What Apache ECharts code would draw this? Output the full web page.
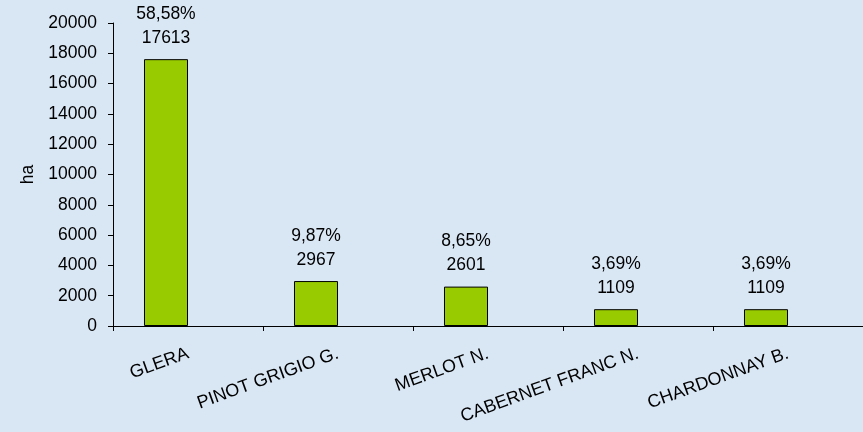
<!DOCTYPE html>
<html>
<head>
<meta charset="utf-8">
<script src="https://cdn.jsdelivr.net/npm/echarts@6/dist/echarts.min.js"></script>
<style>
  html, body { margin: 0; padding: 0; background: #d9e7f5; }
  #chart { width: 863px; height: 432px; }
</style>
</head>
<body>
<div id="chart"></div>
<script>
// Vitigni — superficie (ha) e quota percentuale
const categories = ['GLERA', 'PINOT GRIGIO G.', 'MERLOT N.', 'CABERNET FRANC N.', 'CHARDONNAY B.'];
const ettari     = [17613, 2967, 2601, 1109, 1109];
const percentuali = ['58,58%', '9,87%', '8,65%', '3,69%', '3,69%'];
const yTicks = { min: 0, max: 20000, interval: 2000 };

const FONT = 'Liberation Sans, Arial, sans-serif';

const chart = echarts.init(document.getElementById('chart'), null, { renderer: 'canvas' });

chart.setOption({
  backgroundColor: '#d9e7f5',
  animation: false,
  grid: { left: 113, top: 23, right: -4, bottom: 106, containLabel: false },
  xAxis: {
    type: 'category',
    data: categories,
    boundaryGap: true,
    axisLine: { lineStyle: { color: '#000', width: 1 } },
    axisTick: { show: true, length: 5, lineStyle: { color: '#000' } },
    axisLabel: {
      color: '#000', fontSize: 18, fontFamily: FONT,
      rotate: 20, margin: 27, interval: 0,
    },
    splitLine: { show: false },
  },
  yAxis: {
    type: 'value',
    min: yTicks.min, max: yTicks.max, interval: yTicks.interval,
    name: 'ha',
    nameLocation: 'middle',
    nameGap: 76,
    nameRotate: 90,
    nameTextStyle: { color: '#000', fontSize: 17.5, fontFamily: FONT },
    axisLine: { show: true, lineStyle: { color: '#000', width: 1 } },
    axisTick: { show: true, length: 5, lineStyle: { color: '#000' } },
    axisLabel: {
      color: '#000', fontSize: 17.5, fontFamily: FONT, margin: 16,
      formatter: (v) => String(v),
    },
    splitLine: { show: false },
  },
  series: [
    {
      name: 'ha',
      type: 'bar',
      data: ettari,
      barWidth: 44,
      barGap: '0%',
      itemStyle: { color: '#99cc00', borderColor: '#000', borderWidth: 1 },
      label: {
        show: true,
        position: 'top',
        distance: 9,
        color: '#000',
        fontSize: 17.5,
        fontFamily: FONT,
        lineHeight: 24,
        align: 'center',
        formatter: (p) => percentuali[p.dataIndex] + '\n' + p.value,
      },
      emphasis: { disabled: true },
    },
    {
      // serie vuota: nel grafico originale occupa il secondo posto del gruppo
      name: 'quota',
      type: 'bar',
      data: categories.map(() => null),
      barWidth: 44,
      itemStyle: { color: 'transparent' },
      silent: true,
    },
  ],
});
</script>
</body>
</html>
